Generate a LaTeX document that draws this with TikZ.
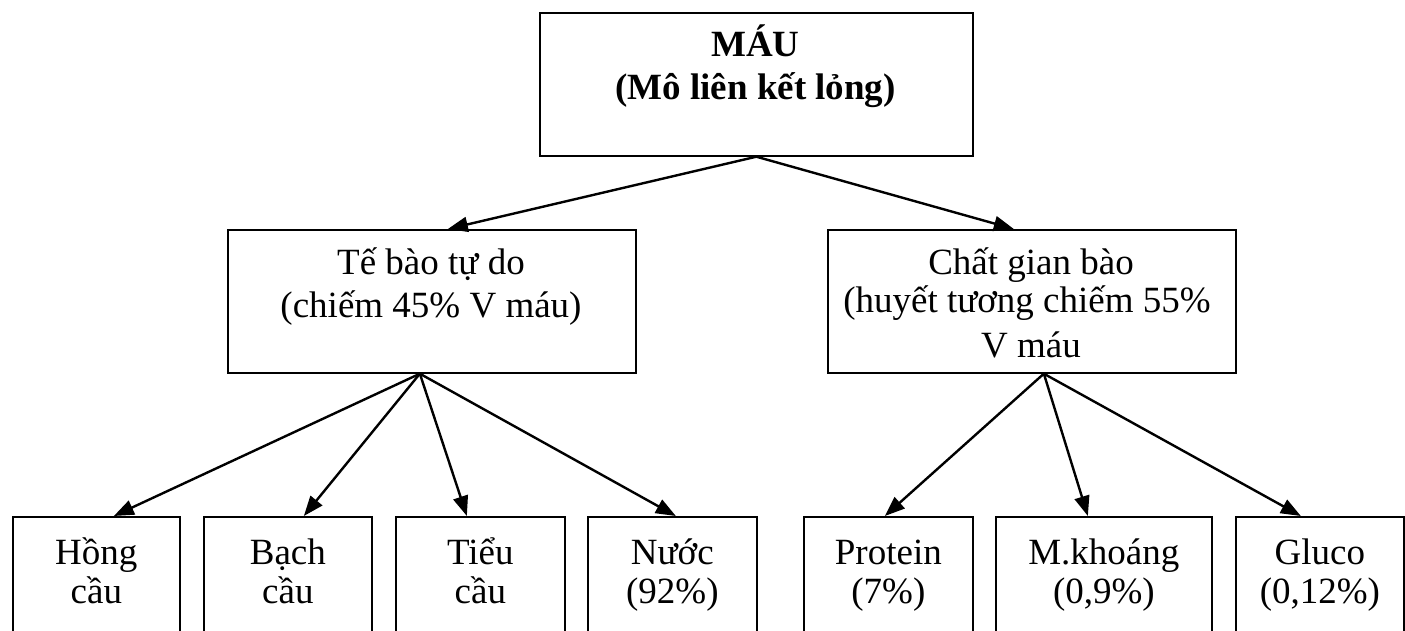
\documentclass[tikz,border=0pt]{standalone}
\usepackage{fontspec}
\setmainfont{Liberation Serif}
\usetikzlibrary{arrows.meta}
\begin{document}
\begin{tikzpicture}[x=1pt,y=-1pt,
  box/.style={draw=black,line width=1.7pt,rectangle,inner sep=0pt,anchor=north west},
  txt/.style={inner sep=0pt,anchor=base,font=\fontsize{37}{43}\selectfont},
  txt2/.style={txt,font=\fontsize{37}{39}\selectfont},
  link/.style={line width=2.4pt,-{Triangle[length=20pt,width=15pt]}}]
\useasboundingbox (0,0) rectangle (1405,631);
\clip (0,0) rectangle (1405,631);

% level 0
\node[box,minimum width=433pt,minimum height=143pt] (mau) at (539,12) {};
\node[txt,font=\fontsize{37}{43}\selectfont\bfseries] (mauT) at (755.5,57)
  {\begin{tabular}[t]{@{}c@{}}MÁU\\(Mô liên kết lỏng)\end{tabular}};

% level 1
\node[box,minimum width=408pt,minimum height=143pt] (tb) at (227,229) {};
\node[txt] (tbT) at (431,274)
  {\begin{tabular}[t]{@{}c@{}}Tế bào tự do\\(chiếm 45\% V máu)\end{tabular}};

\node[box,minimum width=408pt,minimum height=143pt] (cg) at (827,229) {};
\node[txt,font=\fontsize{37}{40}\selectfont] (cgT) at (1031,274)
  {\begin{tabular}[t]{@{}c@{}}Chất gian bào\\[-2pt]\hspace*{-8pt}(huyết tương chiếm 55\%\\[5pt]V máu\end{tabular}};

% level 2
\node[box,minimum width=167pt,minimum height=164pt] (b1) at (12,516) {};
\node[box,minimum width=168pt,minimum height=164pt] (b2) at (203,516) {};
\node[box,minimum width=169pt,minimum height=164pt] (b3) at (395,516) {};
\node[box,minimum width=169pt,minimum height=164pt] (b4) at (587,516) {};
\node[box,minimum width=169pt,minimum height=164pt] (b5) at (803,516) {};
\node[box,minimum width=216pt,minimum height=164pt] (b6) at (995,516) {};
\node[box,minimum width=168pt,minimum height=164pt] (b7) at (1235,516) {};

\node[txt2] (b1T) at (b1.north |- 0,564) {\begin{tabular}[t]{@{}c@{}}Hồng\\cầu\end{tabular}};
\node[txt2] (b2T) at (b2.north |- 0,564) {\begin{tabular}[t]{@{}c@{}}Bạch\\cầu\end{tabular}};
\node[txt2] (b3T) at (b3.north |- 0,564) {\begin{tabular}[t]{@{}c@{}}Tiểu\\cầu\end{tabular}};
\node[txt2] (b4T) at (b4.north |- 0,564) {\begin{tabular}[t]{@{}c@{}}Nước\\(92\%)\end{tabular}};
\node[txt2] (b5T) at (b5.north |- 0,564) {\begin{tabular}[t]{@{}c@{}}Protein\\(7\%)\end{tabular}};
\node[txt2] (b6T) at (b6.north |- 0,564) {\begin{tabular}[t]{@{}c@{}}M.khoáng\\(0,9\%)\end{tabular}};
\node[txt2] (b7T) at (b7.north |- 0,564) {\begin{tabular}[t]{@{}c@{}}Gluco\\(0,12\%)\end{tabular}};

% connectors
\draw[link] (mau.south) -- ([xshift=16pt]tb.north);
\draw[link] (mau.south) -- ([xshift=-18pt]cg.north);

\draw[link] ([xshift=-12pt]tb.south) -- ([xshift=17.5pt]b1.north);
\draw[link] ([xshift=-12pt]tb.south) -- ([xshift=16pt]b2.north);
\draw[link] ([xshift=-12pt]tb.south) -- ([xshift=-13.5pt]b3.north);
\draw[link] ([xshift=-12pt]tb.south) -- ([xshift=3.5pt]b4.north);

\draw[link] ([xshift=12pt]cg.south) -- ([xshift=-3.5pt]b5.north);
\draw[link] ([xshift=12pt]cg.south) -- ([xshift=-16pt]b6.north);
\draw[link] ([xshift=12pt]cg.south) -- ([xshift=-19pt]b7.north);
\end{tikzpicture}
\end{document}
